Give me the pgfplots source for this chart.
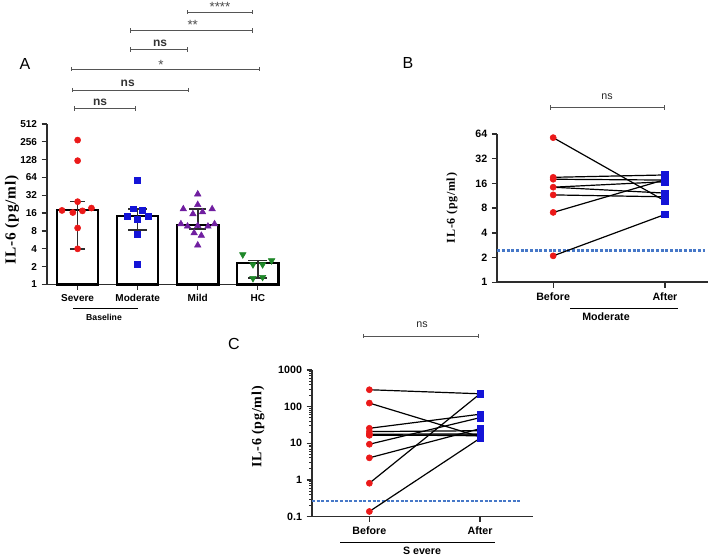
\documentclass[border=0pt]{standalone}
\usepackage{fontspec}
\setmainfont{Liberation Sans}
\newfontfamily\tnr[LetterSpace=6]{Liberation Serif}
\usepackage{pgfplots}
\pgfplotsset{compat=1.18}
\definecolor{cred}{RGB}{235,25,25}
\definecolor{cblue}{RGB}{20,20,215}
\definecolor{cpurp}{RGB}{112,30,160}
\definecolor{cgreen}{RGB}{30,135,40}
\definecolor{cdash}{RGB}{70,120,200}
\definecolor{brc}{RGB}{85,85,85}
\definecolor{axc}{RGB}{45,45,45}
\pgfplotsset{
  myaxis/.style={scale only axis, anchor=south west, clip=false,
    axis x line*=bottom, axis y line*=left,
    axis line style={line width=1.3pt, color=axc},
    major tick style={line width=1pt, color=axc}, major tick length=4pt,
    minor tick style={line width=0.6pt, color=axc}, minor tick length=2pt,
    tick align=outside,
    ticklabel style={font=\bfseries\fontsize{8}{9}\selectfont, text=black},
  },
  pair/.style={black, line width=0.9pt, mark=none},
}
\newcommand{\brk}[3]{%
  \draw[brc, line width=0.7pt] (#1,#3) -- (#2,#3);
  \draw[brc, line width=0.7pt] (#1,{#3-2.2}) -- (#1,{#3+2.2});
  \draw[brc, line width=0.7pt] (#2,{#3-2.2}) -- (#2,{#3+2.2});}
\begin{document}
\begin{tikzpicture}
\path[use as bounding box] (0,0) rectangle (542.25pt,417pt);

% ---------------- Panel A ----------------
\begin{axis}[myaxis, ymode=log, at={(35.25pt,203.625pt)}, width=174.75pt, height=120.375pt,
  xmin=-0.51, xmax=3.37, ymin=1, ymax=512, log basis y=2,
  ytick={1,2,4,8,16,32,64,128,256,512},
  yticklabels={1,2,4,8,16,32,64,128,256,512},
  xtick={0,1,2,3}, xticklabels={Severe,Moderate,Mild,HC},
  ticklabel style={font=\bfseries\fontsize{7.5}{8.5}\selectfont}]
\addplot[ybar, bar width=0.69, fill=white, draw=black, line width=1.6pt]
  coordinates {(0,18) (1,14.4) (2,10.2) (3,2.32)};
\addplot[only marks, mark=*, mark size=2.3pt, color=cred]
  coordinates {(0,274) (0,123) (0,25) (-0.26,17.8) (-0.08,16.4) (0.08,17.5) (0.23,19.5) (0,9) (0,4)};
\addplot[only marks, mark=square*, mark size=2.2pt, color=cblue]
  coordinates {(1,56.7) (0.92,19) (1.08,17.8) (0.83,14.4) (1,12.7) (1.17,14.1) (1,7.1) (1,2.17)};
\addplot[only marks, mark=triangle*, mark size=2.8pt, color=cpurp]
  coordinates {(2,33.5) (2,22.2) (1.76,18.8) (2.24,18.8) (1.92,15.5) (2.08,16.7) (1.72,10.5) (1.83,9.6) (2,9.8) (2.17,9.6) (2.28,10.5) (1.94,7.4) (2.06,6.7) (2,4.6)};
\addplot[only marks, mark=triangle*, mark size=2.8pt, mark options={rotate=180}, color=cgreen]
  coordinates {(2.75,3.2) (2.92,2.17) (3.08,2.17) (3.23,2.53) (2.92,1.27) (3.08,1.33)};
% error bars (median, IQR)
\addplot[axc, line width=1.2pt] coordinates {(0,4) (0,25)};
\addplot[axc, line width=1.2pt] coordinates {(-0.13,25) (0.13,25)};
\addplot[axc, line width=1.2pt] coordinates {(-0.13,4) (0.13,4)};
\addplot[axc, line width=1.2pt] coordinates {(1,8.4) (1,18.8)};
\addplot[axc, line width=1.2pt] coordinates {(0.84,18.8) (1.16,18.8)};
\addplot[axc, line width=1.2pt] coordinates {(0.84,8.4) (1.16,8.4)};
\addplot[axc, line width=1.2pt] coordinates {(2,8.6) (2,19)};
\addplot[axc, line width=1.2pt] coordinates {(1.86,19) (2.14,19)};
\addplot[axc, line width=1.2pt] coordinates {(1.86,8.6) (2.14,8.6)};
\addplot[axc, line width=1.2pt] coordinates {(3,1.3) (3,2.56)};
\addplot[axc, line width=1.2pt] coordinates {(2.84,2.56) (3.16,2.56)};
\addplot[axc, line width=1.2pt] coordinates {(2.84,1.3) (3.16,1.3)};
\end{axis}

% ---------------- Panel B ----------------
\begin{axis}[myaxis, ymode=log, at={(372.975pt,205.275pt)}, width=158pt, height=111.2pt,
  xmin=-0.5, xmax=1.385, ymin=1, ymax=64, log basis y=2,
  ytick={1,2,4,8,16,32,64}, yticklabels={1,2,4,8,16,32,64},
  xtick={0,1}, xticklabels={Before,After}]
\addplot[cdash, line width=2pt, dash pattern=on 2.2pt off 1.3pt] coordinates {(-0.5,2.46) (1.36,2.46)};
\addplot[pair] coordinates {(0,57.8) (1,9.8)};
\addplot[pair] coordinates {(0,19) (1,20.3)};
\addplot[pair] coordinates {(0,18) (1,17.6)};
\addplot[pair] coordinates {(0,14.4) (1,16.8)};
\addplot[pair] coordinates {(0,14.4) (1,12.2)};
\addplot[pair] coordinates {(0,11.6) (1,11)};
\addplot[pair] coordinates {(0,7.1) (1,17.8)};
\addplot[pair] coordinates {(0,2.1) (1,6.7)};
\addplot[only marks, mark=*, mark size=2.3pt, color=cred]
  coordinates {(0,57.8) (0,19) (0,18) (0,14.4) (0,11.6) (0,7.1) (0,2.1)};
\addplot[only marks, mark=square*, mark size=2.4pt, color=cblue]
  coordinates {(1,9.8) (1,20.3) (1,17.6) (1,16.8) (1,12.2) (1,11) (1,17.8) (1,6.7)};
\end{axis}

% ---------------- Panel C ----------------
\begin{axis}[myaxis, ymode=log, at={(234pt,29.625pt)}, width=165.75pt, height=109.875pt,
  xmin=-0.518, xmax=1.478, ymin=0.1, ymax=1000,
  ytick={0.1,1,10,100,1000}, yticklabels={0.1,1,10,100,1000},
  minor ytick={0.2,0.3,0.4,0.5,0.6,0.7,0.8,0.9,2,3,4,5,6,7,8,9,20,30,40,50,60,70,80,90,200,300,400,500,600,700,800,900},
  xtick={0,1}, xticklabels={Before,After}]
\addplot[cdash, line width=2pt, dash pattern=on 2.2pt off 1.3pt] coordinates {(-0.518,0.263) (1.36,0.263)};
\addplot[pair] coordinates {(0,289) (1,224)};
\addplot[pair] coordinates {(0,125) (1,15)};
\addplot[pair] coordinates {(0,25.6) (1,62)};
\addplot[pair] coordinates {(0,20.8) (1,22)};
\addplot[pair] coordinates {(0,17.6) (1,18)};
\addplot[pair] coordinates {(0,17) (1,16)};
\addplot[pair] coordinates {(0,16.5) (1,17)};
\addplot[pair] coordinates {(0,9.4) (1,50)};
\addplot[pair] coordinates {(0,4.0) (1,25)};
\addplot[pair] coordinates {(0,0.81) (1,224)};
\addplot[pair] coordinates {(0,0.137) (1,13.7)};
\addplot[only marks, mark=*, mark size=2.3pt, color=cred]
  coordinates {(0,289) (0,125) (0,25.6) (0,20.8) (0,17.6) (0,17) (0,16.5) (0,9.4) (0,4.0) (0,0.81) (0,0.137)};
\addplot[only marks, mark=square*, mark size=2.4pt, color=cblue]
  coordinates {(1,224) (1,15) (1,62) (1,22) (1,18) (1,16) (1,17) (1,50) (1,25) (1,13.7)};
\end{axis}

% ---------------- annotations (pixel coordinates) ----------------
\begin{scope}[x=0.75pt, y=-0.75pt, yshift=417pt]
  \node[font=\fontsize{12}{13}\selectfont] at (25,64) {A};
  \node[font=\fontsize{12}{13}\selectfont] at (408,63) {B};
  \node[font=\fontsize{12}{13}\selectfont] at (234,344) {C};
  % y labels
  \node[rotate=90, font=\tnr\bfseries\fontsize{11.5}{12}\selectfont] at (12,220) {IL-6\hspace{0.3em}(pg/ml)};
  \node[rotate=90, font=\tnr\bfseries\fontsize{9}{10}\selectfont] at (452,208) {IL-6\hspace{0.3em}(pg/ml)};
  \node[rotate=90, font=\tnr\bfseries\fontsize{10.5}{11}\selectfont] at (258,427) {IL-6\hspace{0.3em}(pg/ml)};
  % panel A brackets
  \brk{187.7}{252.7}{12.3}
  \brk{130.7}{252.7}{30.7}
  \brk{130.7}{187.7}{49.7}
  \brk{71.7}{259.3}{69}
  \brk{72.3}{188.3}{90}
  \brk{74.3}{135}{108.7}
  \node[black!70, font=\fontsize{10}{10}\selectfont] at (220,6.5) {****};
  \node[black!70, font=\fontsize{10}{10}\selectfont] at (192.7,24.5) {**};
  \node[black!80, font=\bfseries\fontsize{9}{9}\selectfont] at (160,43) {ns};
  \node[black!70, font=\fontsize{10}{10}\selectfont] at (161,64.5) {*};
  \node[black!80, font=\bfseries\fontsize{9}{9}\selectfont] at (127.7,83) {ns};
  \node[black!80, font=\bfseries\fontsize{9}{9}\selectfont] at (100,102) {ns};
  \draw[black, line width=0.7pt] (73.3,308.3) -- (138.3,308.3);
  \node[font=\bfseries\fontsize{6.5}{7}\selectfont] at (104,317) {Baseline};
  % panel B
  \brk{550.7}{664}{107.7}
  \node[black!85, font=\fontsize{8}{8}\selectfont] at (607,97) {ns};
  \draw[black, line width=0.7pt] (570,308.7) -- (678,308.7);
  \node[font=\bfseries\fontsize{8}{8}\selectfont] at (606,317) {Moderate};
  % panel C
  \brk{363.3}{478.3}{336}
  \node[black!85, font=\fontsize{8}{8}\selectfont] at (422,325) {ns};
  \draw[black, line width=0.7pt] (340,542.7) -- (495,542.7);
  \node[font=\bfseries\fontsize{8}{8}\selectfont] at (422,551) {S evere};
\end{scope}
\end{tikzpicture}
\end{document}
